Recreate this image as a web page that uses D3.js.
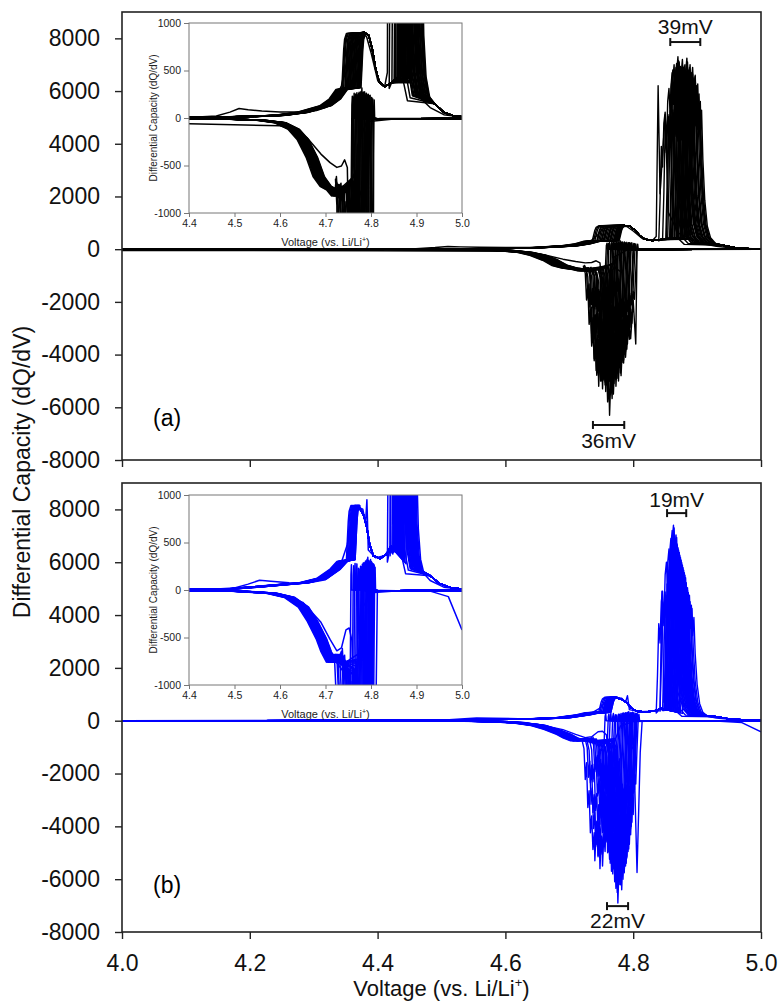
<!DOCTYPE html>
<html>
<head>
<meta charset="utf-8">
<script src="https://cdn.jsdelivr.net/npm/d3@7"></script>
<style>
body { margin: 0; background: #fff; }
svg text { font-family: "Liberation Sans", Arial, sans-serif; }
</style>
</head>
<body>
<div class="chart"></div>
<script>
"use strict";

//
/* Data (V vs. Li/Li+, dQ/dV) */
//

var voltageTicks = [4.0, 4.2, 4.4, 4.6, 4.8, 5.0];
var capacityTicks = [-8000, -6000, -4000, -2000, 0, 2000, 4000, 6000, 8000];
var insetVoltageTicks = [4.4, 4.5, 4.6, 4.7, 4.8, 4.9, 5.0];
var insetCapacityTicks = [-1000, -500, 0, 500, 1000];

// profiles shared by all cycles, placed relative to each cycle's own position
var chargeEdgeShape = [[-0.002, 320], [0, 520], [0.002, 720], [0.004, 830], [0.008, 890]];   // [dV, dQ/dV]
var chargeSpikeShape = [[-0.010, 0.06], [-0.008, 0.35], [-0.006, 0.75], [-0.004, 0.6], [-0.002, 0.92], [0, 1.0],
    [0.002, 0.82], [0.004, 0.95], [0.006, 0.7], [0.008, 0.85], [0.010, 0.55], [0.013, 0.3], [0.017, 0.14],
    [0.022, 0.07], [0.030, 0.035]];                                                      // [dV, fraction of peak]
var dischargeSpikeShape = [[-0.020, 0.14], [-0.017, 0.2], [-0.015, 0.42], [-0.013, 0.3], [-0.011, 0.62],
    [-0.009, 0.5], [-0.007, 0.8], [-0.005, 0.68], [-0.003, 0.92], [-0.001, 0.8], [0, 1.0], [0.002, 0.78],
    [0.004, 0.9], [0.006, 0.6], [0.008, 0.74], [0.010, 0.42], [0.012, 0.5], [0.014, 0.22], [0.016, -0.03],
    [0.017, -0.05], [0.018, 0.0]];

// ---- panel (a), black ----
var chargePreA = [[4.00, 2], [4.30, 3], [4.45, 8], [4.55, 18], [4.60, 30], [4.65, 60], [4.70, 130], [4.72, 200],
    [4.735, 300]];
var chargePlateauA = [[4.785, 900], [4.795, 870], [4.803, 720], [4.81, 520], [4.818, 380], [4.83, 330], [4.845, 370]];
var chargeTailA = [[4.94, 150], [4.96, 60], [4.98, 25], [5.00, 12]];
var dischargeLeadA = [[4.00, -3], [4.40, -8], [4.50, -14], [4.56, -25], [4.60, -50], [4.63, -120], [4.65, -230],
    [4.67, -420], [4.685, -620], [4.70, -720], [4.715, -760], [4.725, -820]];
var dischargeTailA = [[4.82, -12], [4.90, -8], [5.00, -5]];

var cycleShiftA = [0.010, 0.006, -0.004, 0.003, 0.000, -0.008, 0.002, 0.008, -0.002, 0.001, -0.006, 0.005,
    0.012, -0.003, 0.000, 0.004, -0.010, 0.002, 0.009, 0.011, 0.013, -0.001, 0.001, 0.006,
    -0.005, 0.007, -0.007, 0.003, -0.012, 0.005];
var spikePosA = [4.850, 4.856, 4.861, 4.864, 4.867, 4.870, 4.872, 4.875, 4.877, 4.879, 4.881, 4.883,
    4.885, 4.887, 4.889, 4.891, 4.893, 4.895, 4.897, 4.899, 4.868, 4.874, 4.880, 4.886,
    4.862, 4.871, 4.878, 4.884, 4.890, 4.896];
var spikeHeightA = [5200, 6100, 6700, 7000, 6900, 7300, 7100, 6800, 7200, 6900, 7000, 6600,
    7100, 6800, 7000, 6700, 6900, 6500, 6600, 6200, 7050, 6850, 6950, 6750,
    6800, 7150, 6900, 7250, 6650, 6400];
var edgePosA = [4.738, 4.742, 4.745, 4.748, 4.750, 4.753, 4.755, 4.757, 4.759, 4.761, 4.763, 4.765,
    4.767, 4.769, 4.771, 4.773, 4.775, 4.777, 4.778, 4.779, 4.780, 4.752, 4.762, 4.772,
    4.740, 4.746, 4.756, 4.766, 4.774, 4.776];
var troughPosA = [4.742, 4.746, 4.749, 4.752, 4.754, 4.757, 4.759, 4.761, 4.763, 4.765, 4.767, 4.769,
    4.771, 4.773, 4.775, 4.777, 4.779, 4.781, 4.784, 4.787, 4.790, 4.756, 4.766, 4.776,
    4.744, 4.750, 4.760, 4.770, 4.780, 4.785];
var troughDepthA = [-4600, -5200, -5000, -5300, -4900, -5400, -5100, -5600, -6300, -5300, -5000, -5500,
    -4800, -5200, -4700, -5000, -4500, -4800, -4300, -4000, -3800, -5150, -5450, -4900,
    -4400, -5000, -5300, -5100, -4700, -4200];

var firstChargeA = [[4.00, 4], [4.40, 6], [4.46, 22], [4.49, 62], [4.51, 100], [4.53, 88], [4.56, 74], [4.60, 64],
    [4.65, 62], [4.68, 78], [4.70, 110], [4.72, 185], [4.735, 340], [4.745, 560], [4.752, 760], [4.76, 830],
    [4.775, 890], [4.79, 860], [4.80, 690], [4.815, 390], [4.83, 330], [4.836, 480], [4.839, 6200], [4.842, 2100],
    [4.846, 3600], [4.850, 5100], [4.855, 1400], [4.87, 620], [4.90, 250], [4.93, 110], [4.96, 35], [5.00, 10]];
var firstDischargeA = [[4.00, -48], [4.40, -60], [4.60, -82], [4.63, -115], [4.66, -210], [4.69, -380], [4.71, -470],
    [4.725, -520], [4.735, -505], [4.742, -440], [4.748, -520], [4.752, -1600], [4.755, -3100], [4.758, -4300],
    [4.762, -1200], [4.77, -300], [4.79, -40], [4.85, -10], [5.00, -5]];
var strayA = [[5.00, -6], [4.82, -6], [4.806, -12], [4.804, -3600], [4.800, -1950], [4.796, -3400], [4.792, -2600],
    [4.788, -4100], [4.783, -900], [4.775, -760]];

var spreadLabelsA = ["39mV", "36mV"];
var spreadWindowsA = [[4.858, 4.905], [4.737, 4.786]];

// ---- panel (b), blue ----
var chargePreB = [[4.00, 3], [4.40, 6], [4.50, 15], [4.55, 35], [4.60, 55], [4.65, 75], [4.69, 120], [4.72, 220],
    [4.735, 300]];
var chargePlateauB = [[4.775, 860], [4.783, 800], [4.79, 680], [4.797, 480], [4.805, 360], [4.82, 330], [4.835, 380],
    [4.843, 460]];
var chargeTailB = [[4.93, 150], [4.95, 70], [4.975, 25], [5.00, 10]];
var dischargeLeadB = [[4.00, -2], [4.45, -6], [4.52, -15], [4.58, -35], [4.62, -80], [4.65, -180], [4.67, -330],
    [4.69, -520], [4.70, -650], [4.712, -760], [4.722, -680], [4.732, -760]];
var dischargeTailB = [[4.82, -10], [4.90, -6], [5.00, -4]];

var cycleShiftB = [0.008, 0.003, -0.006, 0.001, 0.010, -0.004, 0.000, 0.005, -0.008, 0.002, 0.012, -0.002,
    0.001, 0.007, -0.004, 0.004, 0.013, 0.000, -0.006, 0.003, 0.009, 0.001, -0.002, 0.005,
    -0.010, 0.006, -0.001, 0.011, -0.005, 0.002];
var spikePosB = [4.846, 4.852, 4.856, 4.859, 4.861, 4.863, 4.865, 4.867, 4.869, 4.871, 4.873, 4.875,
    4.877, 4.879, 4.881, 4.884, 4.887, 4.862, 4.866, 4.870, 4.874, 4.878, 4.858, 4.868,
    4.860, 4.864, 4.868, 4.872, 4.876, 4.882];
var spikeHeightB = [4900, 6000, 6500, 6900, 7200, 7400, 7000, 6800, 6600, 6400, 6200, 6000,
    5800, 5500, 5300, 5000, 4600, 7100, 6900, 6500, 6100, 5700, 6300, 6700,
    6600, 7300, 6700, 6300, 5900, 5100];
var edgePosB = [4.748, 4.752, 4.755, 4.757, 4.758, 4.760, 4.761, 4.762, 4.763, 4.764, 4.765, 4.766,
    4.767, 4.764, 4.762, 4.760, 4.758, 4.763, 4.765, 4.766, 4.761, 4.759, 4.757, 4.754,
    4.750, 4.756, 4.761, 4.765, 4.763, 4.767];
var troughPosB = [4.740, 4.748, 4.755, 4.760, 4.764, 4.768, 4.771, 4.774, 4.776, 4.778, 4.780, 4.782,
    4.784, 4.786, 4.788, 4.790, 4.792, 4.769, 4.773, 4.779, 4.783, 4.787, 4.762, 4.757,
    4.745, 4.752, 4.766, 4.775, 4.781, 4.789];
var troughDepthB = [-5300, -5600, -4600, -5000, -5400, -5800, -6100, -6300, -6900, -6200, -5900, -6400,
    -6000, -5700, -5500, -5200, -4800, -5600, -6000, -5800, -5900, -5300, -4900, -4400,
    -5100, -5500, -5700, -6500, -6100, -5400];

var firstChargeB = [[4.00, 3], [4.45, 9], [4.50, 22], [4.53, 62], [4.555, 102], [4.58, 92], [4.62, 76], [4.66, 74],
    [4.70, 108], [4.73, 220], [4.748, 480], [4.758, 760], [4.768, 880], [4.782, 850], [4.788, 700], [4.791, 950],
    [4.794, 420], [4.81, 340], [4.83, 360], [4.842, 450], [4.845, 4900], [4.848, 700], [4.86, 1800], [4.875, 700],
    [4.90, 260], [4.93, 100], [4.96, 30], [5.00, 8]];
var firstDischargeB = [[4.00, -3], [4.50, -14], [4.60, -45], [4.65, -130], [4.69, -340], [4.71, -520], [4.725, -640],
    [4.735, -610], [4.745, -420], [4.752, -400], [4.758, -530], [4.762, -1300], [4.765, -4600], [4.769, -900],
    [4.78, -200], [4.80, -30], [4.86, -8], [5.00, -4]];
var strayB = [[5.00, -420], [4.97, -70], [4.93, -12], [4.82, -5], [4.814, -10], [4.811, -1200], [4.806, -5750],
    [4.801, -1100], [4.795, -880]];

var spreadLabelsB = ["19mV", "22mV"];
var spreadWindowsB = [[4.853, 4.883], [4.759, 4.792]];

//
/* Build one polyline per cycle */
//
function chargeCycle(d, i)
{
    var s = d.shift[i];
    var pts = d.chargePre.map(function(p) { return [p[0] + s, p[1]]; });
    chargeEdgeShape.forEach(function(p) { pts.push([d.edgePos[i] + p[0], p[1]]); });
    pts = pts.concat(d.chargePlateau);
    chargeSpikeShape.forEach(function(p) { pts.push([d.spikePos[i] + p[0], d.spikeHeight[i] * p[1]]); });
    return pts.concat(d.chargeTail);
}

function dischargeCycle(d, i)
{
    var s = d.shift[i];
    var pts = d.dischargeLead.map(function(p) { return [p[0] + s, p[1]]; });
    dischargeSpikeShape.forEach(function(p) { pts.push([d.troughPos[i] + p[0], d.troughDepth[i] * p[1]]); });
    return pts.concat(d.dischargeTail);
}

function buildCurves(d)
{
    var curves = [];
    for (var i = 0; i < d.shift.length; i++)
    {
        curves.push(chargeCycle(d, i));
        curves.push(dischargeCycle(d, i));
    }
    curves.push(d.firstCharge, d.firstDischarge, d.stray);
    return curves;
}

var W = 778, H = 1001;
var plotLeft = 122, plotRight = 761;
var plainNumber = function(d) { return String(d); };

var svg = d3.select(".chart").append("svg")
    .attr("width", W)
    .attr("height", H);

var x = d3.scaleLinear().domain([4.0, 5.0]).range([plotLeft, plotRight]);

function drawPanel(cfg)
{
    var top = cfg.top, bottom = cfg.bottom;
    var y = d3.scaleLinear().domain([-8000, 9000]).range([bottom, top]);
    var curves = buildCurves(cfg.data);

    var g = svg.append("g");

    g.append("clipPath").attr("id", "clip" + cfg.id)
        .append("rect")
        .attr("x", plotLeft).attr("y", top)
        .attr("width", plotRight - plotLeft).attr("height", bottom - top);

    var line = d3.line().x(function(p) { return x(p[0]); }).y(function(p) { return y(p[1]); });

    g.append("g")
        .attr("clip-path", "url(#clip" + cfg.id + ")")
        .selectAll("path")
        .data(curves)
        .enter()
        .append("path")
        .attr("d", line)
        .attr("fill", "none")
        .attr("stroke", cfg.color)
        .attr("stroke-width", 1.4)
        .attr("stroke-linejoin", "round");

    // frame
    g.append("rect")
        .attr("x", plotLeft).attr("y", top)
        .attr("width", plotRight - plotLeft).attr("height", bottom - top)
        .attr("fill", "none")
        .attr("stroke", "#222")
        .attr("stroke-width", 1.6);

    var yAxis = d3.axisLeft(y).tickValues(capacityTicks).tickSize(7).tickPadding(15).tickFormat(plainNumber);
    var yAx = g.append("g").attr("transform", "translate(" + plotLeft + ",0)").call(yAxis);

    var xAxis = d3.axisBottom(x).tickValues(voltageTicks).tickSize(7).tickPadding(16)
        .tickFormat(cfg.xLabels ? d3.format(".1f") : "");
    var xAx = g.append("g").attr("transform", "translate(0," + bottom + ")").call(xAxis);

    [yAx, xAx].forEach(function(a)
    {
        a.select(".domain").remove();
        a.selectAll("line").attr("stroke", "#222").attr("stroke-width", 1.4);
        a.selectAll("text").attr("font-size", "23px").attr("fill", "#111")
            .style("font-family", "'Liberation Sans', Arial, sans-serif");
    });

    // panel tag
    g.append("text")
        .attr("x", 153).attr("y", cfg.tagY)
        .attr("font-size", "23px")
        .text(cfg.tag);

    // voltage-spread brackets
    cfg.spreadLabels.forEach(function(lbl, i)
    {
        var w = cfg.spreadWindows[i];
        var by = y(cfg.spreadBarValues[i]);
        var x0 = x(w[0]), x1 = x(w[1]);
        g.append("line").attr("x1", x0).attr("x2", x1).attr("y1", by).attr("y2", by)
            .attr("stroke", "#111").attr("stroke-width", 2);
        [x0, x1].forEach(function(xx)
        {
            g.append("line").attr("x1", xx).attr("x2", xx).attr("y1", by - 4).attr("y2", by + 4)
                .attr("stroke", "#111").attr("stroke-width", 2);
        });
        g.append("text")
            .attr("x", (x0 + x1) / 2)
            .attr("y", y(cfg.spreadTextValues[i]))
            .attr("text-anchor", "middle")
            .attr("font-size", "21px")
            .attr("fill", "#111")
            .text(lbl);
    });

    drawInset(cfg, curves, cfg.insetTop);
}

function drawInset(cfg, curves, itop)
{
    var il = 189, ir = 462, ib = itop + 190;
    var ix = d3.scaleLinear().domain([4.4, 5.0]).range([il, ir]);
    var iy = d3.scaleLinear().domain([-1000, 1000]).range([ib, itop]);

    var g = svg.append("g");

    g.append("clipPath").attr("id", "iclip" + cfg.id)
        .append("rect")
        .attr("x", il).attr("y", itop)
        .attr("width", ir - il).attr("height", ib - itop);

    var line = d3.line().x(function(p) { return ix(p[0]); }).y(function(p) { return iy(p[1]); });

    g.append("g")
        .attr("clip-path", "url(#iclip" + cfg.id + ")")
        .selectAll("path")
        .data(curves)
        .enter()
        .append("path")
        .attr("d", line)
        .attr("fill", "none")
        .attr("stroke", cfg.color)
        .attr("stroke-width", 1.5)
        .attr("stroke-linejoin", "round");

    g.append("rect")
        .attr("x", il).attr("y", itop)
        .attr("width", ir - il).attr("height", ib - itop)
        .attr("fill", "none")
        .attr("stroke", "#777")
        .attr("stroke-width", 1);

    var yAx = g.append("g").attr("transform", "translate(" + il + ",0)")
        .call(d3.axisLeft(iy).tickValues(insetCapacityTicks).tickSize(5).tickPadding(3).tickFormat(plainNumber));
    var xAx = g.append("g").attr("transform", "translate(0," + ib + ")")
        .call(d3.axisBottom(ix).tickValues(insetVoltageTicks).tickSize(4).tickPadding(3).tickFormat(d3.format(".1f")));

    [yAx, xAx].forEach(function(a)
    {
        a.select(".domain").remove();
        a.selectAll("line").attr("stroke", "#777");
        a.selectAll("text").attr("font-size", "10.5px").attr("fill", "#222")
            .style("font-family", "'Liberation Sans', Arial, sans-serif");
    });

    g.append("text")
        .attr("transform", "translate(157," + ((itop + ib) / 2) + ") rotate(-90)")
        .attr("text-anchor", "middle")
        .attr("font-size", "10px")
        .attr("fill", "#222")
        .text("Differential Capacity (dQ/dV)");

    var xl = g.append("text")
        .attr("x", (il + ir) / 2).attr("y", ib + 33)
        .attr("text-anchor", "middle")
        .attr("font-size", "11px")
        .attr("fill", "#222");
    xl.append("tspan").text("Voltage (vs. Li/Li");
    xl.append("tspan").attr("font-size", "7px").attr("dy", -4).text("+");
    xl.append("tspan").attr("dy", 4).text(")");
}

drawPanel({
    id: "a", top: 12, bottom: 460, color: "#000", xLabels: false, tag: "(a)", tagY: 426, insetTop: 23,
    spreadLabels: spreadLabelsA, spreadWindows: spreadWindowsA,
    spreadBarValues: [7860, -6670], spreadTextValues: [8170, -7550],
    data: {
        chargePre: chargePreA, chargePlateau: chargePlateauA, chargeTail: chargeTailA,
        dischargeLead: dischargeLeadA, dischargeTail: dischargeTailA,
        shift: cycleShiftA, edgePos: edgePosA, spikePos: spikePosA, spikeHeight: spikeHeightA,
        troughPos: troughPosA, troughDepth: troughDepthA,
        firstCharge: firstChargeA, firstDischarge: firstDischargeA, stray: strayA
    }
});

drawPanel({
    id: "b", top: 483, bottom: 932, color: "#0000ff", xLabels: true, tag: "(b)", tagY: 893, insetTop: 495,
    spreadLabels: spreadLabelsB, spreadWindows: spreadWindowsB,
    spreadBarValues: [7860, -7020], spreadTextValues: [8090, -7850],
    data: {
        chargePre: chargePreB, chargePlateau: chargePlateauB, chargeTail: chargeTailB,
        dischargeLead: dischargeLeadB, dischargeTail: dischargeTailB,
        shift: cycleShiftB, edgePos: edgePosB, spikePos: spikePosB, spikeHeight: spikeHeightB,
        troughPos: troughPosB, troughDepth: troughDepthB,
        firstCharge: firstChargeB, firstDischarge: firstDischargeB, stray: strayB
    }
});

// shared axis titles
svg.append("text")
    .attr("transform", "translate(30,472) rotate(-90)")
    .attr("text-anchor", "middle")
    .attr("font-size", "23px")
    .attr("fill", "#111")
    .text("Differential Capacity (dQ/dV)");

var xt = svg.append("text")
    .attr("x", (plotLeft + plotRight) / 2)
    .attr("y", 996)
    .attr("text-anchor", "middle")
    .attr("font-size", "22px")
    .attr("fill", "#111");
xt.append("tspan").text("Voltage (vs. Li/Li");
xt.append("tspan").attr("font-size", "13px").attr("dy", -9).text("+");
xt.append("tspan").attr("dy", 9).text(")");
</script>
</body>
</html>
